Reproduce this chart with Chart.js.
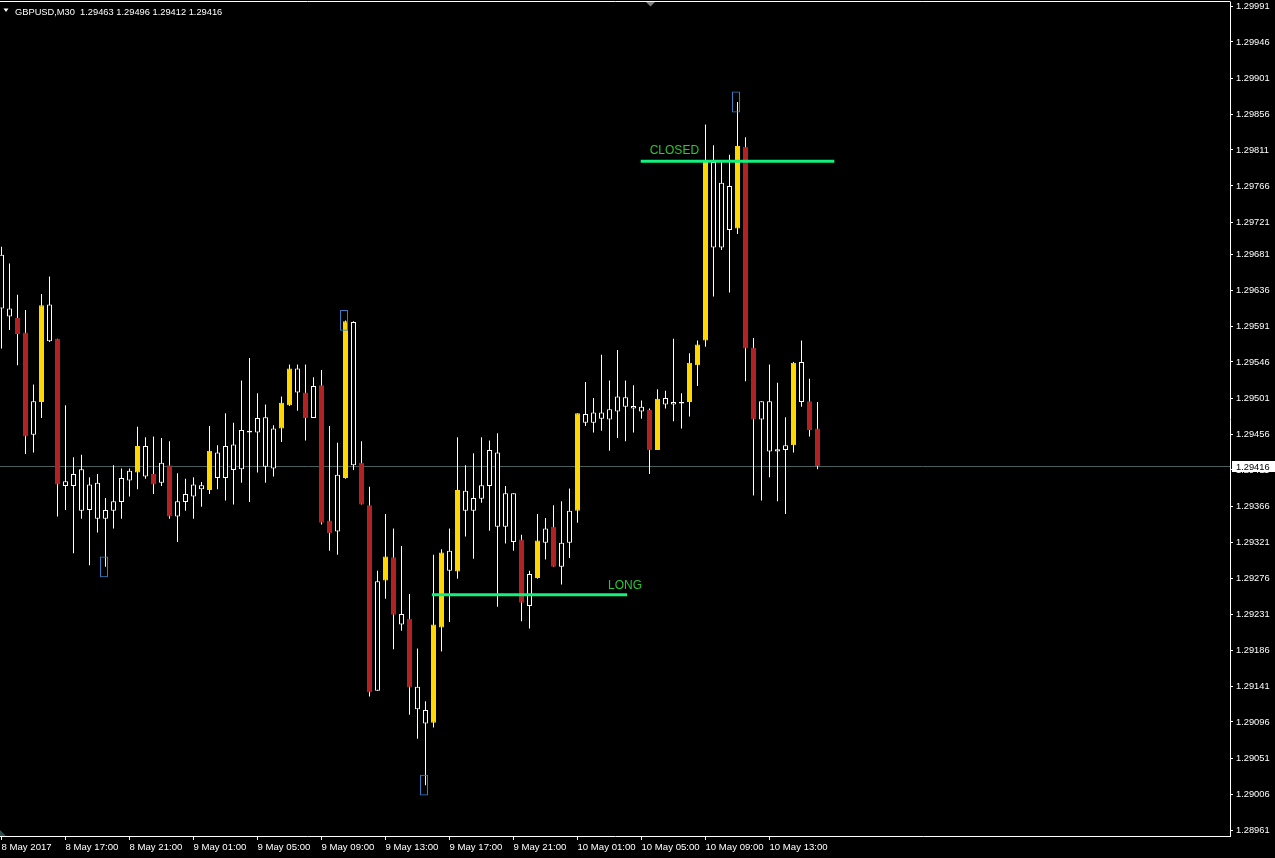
<!DOCTYPE html>
<html>
<head>
<meta charset="utf-8">
<script src="https://cdn.jsdelivr.net/npm/chart.js@4.4.1/dist/chart.umd.min.js"></script>
<style>
html,body{margin:0;padding:0;background:#000;overflow:hidden}
#wrap{width:1275px;height:858px;position:relative}
</style>
</head>
<body>
<div id="wrap"><canvas id="c" width="1275" height="858"></canvas></div>
<script>
// ---------------- DATA ----------------
const symbolTitle = 'GBPUSD,M30';

const opens = [1.29680,1.29613,1.29601,1.29583,1.29455,1.29496,1.29618,1.29575,1.29397,1.29391,
1.29412,1.29361,1.29395,1.29350,1.29360,1.29371,1.29398,1.29408,1.29441,1.29406,
1.29395,1.29417,1.29353,1.29371,1.29378,1.29392,1.29386,1.29433,1.29401,1.29443,
1.29412,1.29460,1.29458,1.29477,1.29413,1.29463,1.29492,1.29538,1.29508,1.29476,
1.29517,1.29348,1.29334,1.29401,1.29596,1.29420,1.29367,1.29135,1.29273,1.29302,
1.29231,1.29225,1.29140,1.29111,1.29095,1.29214,1.29310,1.29284,1.29385,1.29360,
1.29375,1.29391,1.29433,1.29340,1.29382,1.29324,1.29241,1.29276,1.29320,1.29340,
1.29290,1.29320,1.29360,1.29481,1.29470,1.29483,1.29474,1.29484,1.29502,1.29491,
1.29484,1.29486,1.29436,1.29501,1.29493,1.29496,1.29496,1.29542,1.29573,1.29796,
1.29689,1.29766,1.29713,1.29815,1.29564,1.29474,1.29497,1.29434,1.29436,1.29442,
1.29546,1.29497,1.29463];

const highs = [1.29690,1.29669,1.29630,1.29611,1.29518,1.29631,1.29653,1.29575,1.29492,1.29427,
1.29430,1.29402,1.29406,1.29376,1.29417,1.29413,1.29413,1.29465,1.29452,1.29453,
1.29451,1.29447,1.29407,1.29400,1.29402,1.29396,1.29466,1.29442,1.29482,1.29470,
1.29523,1.29551,1.29507,1.29493,1.29467,1.29503,1.29543,1.29543,1.29543,1.29527,
1.29536,1.29466,1.29445,1.29598,1.29597,1.29447,1.29390,1.29285,1.29356,1.29338,
1.29316,1.29256,1.29188,1.29122,1.29305,1.29312,1.29338,1.29452,1.29417,1.29432,
1.29452,1.29448,1.29457,1.29391,1.29382,1.29330,1.29285,1.29356,1.29351,1.29367,
1.29372,1.29388,1.29482,1.29521,1.29501,1.29555,1.29523,1.29561,1.29523,1.29517,
1.29498,1.29488,1.29512,1.29510,1.29575,1.29507,1.29557,1.29573,1.29843,1.29817,
1.29796,1.29805,1.29871,1.29827,1.29576,1.29497,1.29543,1.29520,1.29477,1.29546,
1.29573,1.29525,1.29496];

const lows = [1.29563,1.29586,1.29542,1.29431,1.29433,1.29476,1.29571,1.29353,1.29361,1.29307,
1.29350,1.29292,1.29333,1.29290,1.29338,1.29350,1.29378,1.29387,1.29400,1.29381,
1.29391,1.29350,1.29321,1.29360,1.29350,1.29365,1.29381,1.29387,1.29373,1.29368,
1.29395,1.29371,1.29408,1.29395,1.29403,1.29446,1.29491,1.29485,1.29448,1.29476,
1.29343,1.29310,1.29305,1.29400,1.29411,1.29368,1.29128,1.29135,1.29250,1.29187,
1.29210,1.29105,1.29075,1.29017,1.29089,1.29184,1.29221,1.29275,1.29328,1.29300,
1.29370,1.29335,1.29240,1.29319,1.29310,1.29222,1.29213,1.29275,1.29299,1.29290,
1.29268,1.29301,1.29345,1.29466,1.29458,1.29460,1.29435,1.29451,1.29447,1.29458,
1.29475,1.29406,1.29436,1.29488,1.29472,1.29463,1.29478,1.29516,1.29565,1.29628,
1.29686,1.29633,1.29706,1.29522,1.29379,1.29373,1.29402,1.29372,1.29356,1.29433,
1.29490,1.29453,1.29412];

const closes = [1.29613,1.29603,1.29581,1.29453,1.29497,1.29617,1.29572,1.29393,1.29391,1.29406,
1.29360,1.29393,1.29350,1.29361,1.29372,1.29401,1.29410,1.29441,1.29403,1.29393,
1.29420,1.29353,1.29372,1.29381,1.29393,1.29387,1.29435,1.29401,1.29441,1.29411,
1.29461,1.29458,1.29476,1.29415,1.29463,1.29495,1.29538,1.29508,1.29476,1.29516,
1.29345,1.29332,1.29405,1.29597,1.29417,1.29368,1.29133,1.29272,1.29303,1.29230,
1.29218,1.29139,1.29112,1.29094,1.29218,1.29308,1.29285,1.29386,1.29360,1.29376,
1.29392,1.29436,1.29340,1.29382,1.29321,1.29245,1.29281,1.29323,1.29338,1.29290,
1.29320,1.29360,1.29482,1.29470,1.29483,1.29475,1.29487,1.29503,1.29490,1.29488,
1.29490,1.29436,1.29500,1.29493,1.29496,1.29494,1.29545,1.29568,1.29796,1.29689,
1.29770,1.29711,1.29816,1.29563,1.29474,1.29497,1.29434,1.29437,1.29442,1.29545,
1.29496,1.29461,1.29416];

// indicator state of each bar: B = strong bull, S = strong bear, N = neutral
const barState = [
'N','N','S','S','N','B','N','S','N','N',
'N','N','N','N','N','N','N','B','N','S',
'N','S','N','N','N','N','B','N','N','N',
'N','N','N','N','N','B','B','N','S','N',
'S','S','N','B','N','S','S','N','B','S',
'N','S','N','N','B','B','N','B','N','N',
'N','N','N','N','N','S','N','B','N','S',
'N','N','B','N','N','N','N','N','N','N',
'N','S','B','N','N','N','B','B','B','N',
'N','N','B','S','S','N','N','N','N','B',
'N','S','S'];

// fractal markers (bar index, price)
const markerBars = [13, 43, 53, 92];
const markerPrices = [1.29290, 1.29598, 1.29017, 1.29871];

// trade lines (bar positions and price)
const tradeLabels = ['LONG', 'CLOSED'];
const tradeStart = [53.8, 79.9];
const tradeEnd = [78.2, 104.1];
const tradePrice = [1.29255, 1.29797];

// axis ticks
const xTickBars = [0, 8, 16, 24, 32, 40, 48, 56, 64, 72, 80, 88, 96];
const xTickLabels = ['8 May 2017','8 May 17:00','8 May 21:00','9 May 01:00','9 May 05:00','9 May 09:00',
'9 May 13:00','9 May 17:00','9 May 21:00','10 May 01:00','10 May 05:00','10 May 09:00','10 May 13:00'];
const yTicks = [1.29991,1.29946,1.29901,1.29856,1.29811,1.29766,1.29721,1.29681,1.29636,1.29591,
1.29546,1.29501,1.29456,1.29411,1.29366,1.29321,1.29276,1.29231,1.29186,1.29141,1.29096,1.29051,1.29006,1.28961];

// ---------------- RENDER ----------------
const N = opens.length;
const last = N - 1;
const bidPrice = closes[last];
const FONT = "'Liberation Sans', Arial, sans-serif";
const fillOf = {B: '#FFD700', S: '#B22222', N: '#000000'};
const edgeOf = {B: '#FFD700', S: '#B22222', N: '#FFFFFF'};

const wickData = opens.map((_, i) => ({x: i, y: [lows[i], highs[i]]}));
const bodyData = opens.map((o, i) => ({x: i, y: [o, closes[i]]}));
const markerData = markerBars.map((b, i) => ({x: b - 0.1875, y: [markerPrices[i] - 0.00013, markerPrices[i] + 0.00013]}));

const tradeDatasets = tradeLabels.map((lab, i) => ({
  type: 'line',
  label: lab,
  data: [{x: tradeStart[i], y: tradePrice[i]}, {x: tradeEnd[i], y: tradePrice[i]}],
  borderColor: '#14F07E',
  borderWidth: 3,
  pointRadius: 0,
  fill: false,
  order: -1
}));

const decor = {
  id: 'mtDecor',
  beforeDatasetsDraw(chart) {
    const {ctx, chartArea: a, scales: {y}} = chart;
    const py = Math.round(y.getPixelForValue(bidPrice)) + 0.5;
    ctx.save();
    ctx.strokeStyle = '#4b5e5e';
    ctx.lineWidth = 1;
    ctx.beginPath(); ctx.moveTo(a.left, py); ctx.lineTo(a.right, py); ctx.stroke();
    ctx.restore();
  },
  afterDraw(chart) {
    const {ctx, chartArea: a, scales: {x, y}} = chart;
    ctx.save();
    // top frame line
    ctx.strokeStyle = '#ffffff'; ctx.lineWidth = 1;
    ctx.beginPath(); ctx.moveTo(0, 1.5); ctx.lineTo(a.right + 0.5, 1.5); ctx.stroke();
    // header
    ctx.fillStyle = '#ffffff';
    ctx.beginPath(); ctx.moveTo(3.5, 8.5); ctx.lineTo(8.5, 8.5); ctx.lineTo(6, 12); ctx.closePath(); ctx.fill();
    ctx.font = '9.3px ' + FONT;
    ctx.textBaseline = 'alphabetic'; ctx.textAlign = 'left';
    const fmt = v => v.toFixed(5);
    ctx.fillText(symbolTitle + '  ' + fmt(opens[last]) + ' ' + fmt(highs[last]) + ' ' + fmt(lows[last]) + ' ' + fmt(closes[last]), 15, 14.5);
    // top-centre scroll marker
    ctx.fillStyle = '#7f7f7f';
    ctx.beginPath(); ctx.moveTo(646, 2); ctx.lineTo(655, 2); ctx.lineTo(650.5, 6.5); ctx.closePath(); ctx.fill();
    // bottom-left marker
    ctx.fillStyle = '#2f4f4f';
    ctx.beginPath(); ctx.moveTo(0, a.bottom - 6); ctx.lineTo(0, a.bottom); ctx.lineTo(6, a.bottom); ctx.closePath(); ctx.fill();
    // trade labels
    ctx.fillStyle = '#2FC62F';
    ctx.font = '12px ' + FONT;
    ctx.fillText(tradeLabels[0], x.getPixelForValue(tradeEnd[0]) - 19, y.getPixelForValue(tradePrice[0]) - 5.5);
    ctx.fillText(tradeLabels[1], x.getPixelForValue(tradeStart[1]) + 9, y.getPixelForValue(tradePrice[1]) - 7);
    // bid label box
    const py = Math.round(y.getPixelForValue(bidPrice)) + 0.5;
    ctx.fillStyle = '#ffffff';
    ctx.fillRect(a.right + 2, py - 5.5, chart.width - a.right - 2, 11);
    ctx.fillStyle = '#000000';
    ctx.font = '9.3px ' + FONT;
    ctx.textBaseline = 'middle';
    ctx.fillText(fmt(bidPrice), a.right + 6, py + 0.5);
    ctx.restore();
  }
};

new Chart(document.getElementById('c'), {
  type: 'bar',
  data: {
    datasets: [
      {
        label: 'markers', data: markerData,
        backgroundColor: 'rgba(0,0,0,0)', borderColor: '#3A7BC0', borderWidth: 1,
        borderSkipped: false, barThickness: 8, grouped: false, order: 0, inflateAmount: 0
      },
      {
        label: 'bodies', data: bodyData,
        backgroundColor: barState.map(s => fillOf[s]),
        borderColor: barState.map(s => edgeOf[s]),
        borderWidth: 1, borderSkipped: false, barThickness: 5, minBarLength: 1,
        grouped: false, order: 1, inflateAmount: 0
      },
      {
        label: 'wicks', data: wickData,
        backgroundColor: '#ffffff', borderWidth: 0, barThickness: 1,
        grouped: false, order: 2, inflateAmount: 0
      },
      ...tradeDatasets
    ]
  },
  options: {
    responsive: false,
    animation: false,
    devicePixelRatio: 1,
    events: [],
    layout: {padding: {top: 2, left: 0, right: 0, bottom: 0}},
    plugins: {legend: {display: false}, tooltip: {enabled: false}, title: {display: false}},
    scales: {
      x: {
        type: 'linear',
        offset: false,
        min: -0.1875,
        max: -0.1875 + 1230 / 8,
        afterBuildTicks: s => { s.ticks = xTickBars.map(v => ({value: v})); },
        afterFit: s => { s.height = 22; s.paddingLeft = 0; s.paddingRight = 0; },
        ticks: {
          autoSkip: false, maxRotation: 0, minRotation: 0, align: 'start',
          color: '#ffffff', padding: 2,
          font: {family: FONT, size: 9.6},
          callback: (v, i) => xTickLabels[i]
        },
        grid: {display: true, drawOnChartArea: false, drawTicks: true, tickLength: 4, color: '#ffffff', offset: false},
        border: {display: true, color: '#ffffff', width: 1}
      },
      y: {
        type: 'linear',
        position: 'right',
        min: 1.29996 - 834 / 80000,
        max: 1.29996,
        afterBuildTicks: s => { s.ticks = yTicks.map(v => ({value: v})); },
        afterFit: s => { s.width = 45; s.paddingTop = 0; s.paddingBottom = 0; },
        ticks: {
          color: '#ffffff', padding: 3, crossAlign: 'near',
          font: {family: FONT, size: 9.3},
          callback: v => Number(v).toFixed(5)
        },
        grid: {display: true, drawOnChartArea: false, drawTicks: true, tickLength: 3, color: '#ffffff'},
        border: {display: true, color: '#ffffff', width: 1}
      }
    }
  },
  plugins: [decor]
});
</script>
</body>
</html>
